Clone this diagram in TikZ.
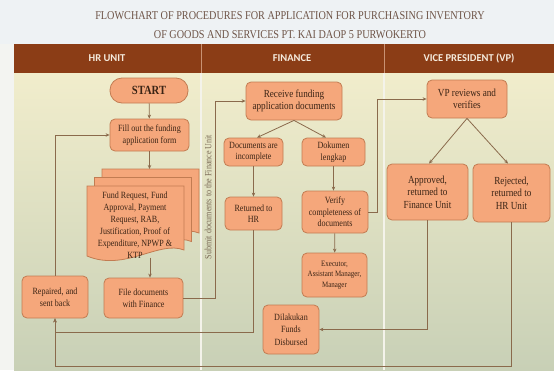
\documentclass[tikz,border=0pt]{standalone}
\usepackage{fontspec}
\setmainfont{Liberation Serif}[FakeStretch=0.85]
\newfontfamily\headfont{Carlito}
\usetikzlibrary{arrows.meta}

\definecolor{nodefill}{HTML}{F5A77B}
\definecolor{nodeline}{HTML}{C27C52}
\definecolor{ink}{HTML}{3B2415}
\definecolor{wire}{HTML}{8A6A4C}
\definecolor{headbg}{HTML}{8B3D16}
\definecolor{headtext}{HTML}{F5EBDD}
\definecolor{headsep}{HTML}{C99273}
\definecolor{titletext}{HTML}{6D5346}
\definecolor{titlebg}{HTML}{EEF2F4}
\definecolor{strip}{HTML}{F3F4F1}
\definecolor{bodytop}{HTML}{F1EDCC}
\definecolor{bodybot}{HTML}{C8D0B6}
\definecolor{colsep}{HTML}{F4F3EA}
\definecolor{sidetext}{HTML}{7A6A55}

\tikzset{
  box/.style={draw=nodeline, fill=nodefill, line width=0.8pt, rounded corners=5pt,
    align=center, text=ink, inner sep=1pt, font=\fontsize{9.5}{11.5}\selectfont},
  bigbox/.style={box, font=\fontsize{10.8}{12.5}\selectfont},
  flow/.style={draw=wire, line width=0.8pt, -{Stealth[length=4pt,width=3.5pt]}},
  wireline/.style={draw=wire, line width=0.8pt},
  docsheet/.style={draw=nodeline, fill=nodefill, line width=0.8pt},
  lanehead/.style={text=headtext, font=\headfont\bfseries\fontsize{10.5}{12}\selectfont},
}

\begin{document}
\begin{tikzpicture}[x=1pt, y=-1pt]
\useasboundingbox (0,0) rectangle (554,370);

% backgrounds
\fill[titlebg] (0,0) rectangle (554,44);
\fill[strip] (0,44) rectangle (14,370);
\shade[top color=bodytop, bottom color=bodybot] (14,73) rectangle (554,370);
\fill[headbg] (14,44) rectangle (554,73);
\draw[headsep, line width=0.8pt] (201,44) -- (201,73) (384,44) -- (384,73);
\draw[colsep, line width=1.3pt] (201,73) -- (201,370) (384,73) -- (384,370);

% title and lane headers
\node[text=titletext, align=center, font=\fontsize{12}{19}\selectfont] (title) at (290,25.5)
  {FLOWCHART OF PROCEDURES FOR APPLICATION FOR PURCHASING INVENTORY\\
   OF GOODS AND SERVICES PT. KAI DAOP 5 PURWOKERTO};
\node[lanehead] (hhr) at (107,58.5) {HR UNIT};
\node[lanehead] (hfin) at (292,58.5) {FINANCE};
\node[lanehead] (hvp) at (469,58.5) {VICE PRESIDENT (VP)};

% HR unit
\node[box, rounded corners=12pt, minimum width=78pt, minimum height=25pt,
  font=\bfseries\fontsize{12.5}{14}\selectfont] (start) at (149,90.5) {START};
\node[box, minimum width=79pt, minimum height=32pt] (fill) at (149.5,135)
  {Fill out the funding\\application form};

% stacked document sheets
\foreach \dx/\dy in {15/-17, 7.5/-8.5, 0/0}{
  \filldraw[docsheet, shift={(87+\dx,186+\dy)}]
    (0,0) -- (97,0) -- (97,64) .. controls (72,54) and (38,86) .. (0,70) -- cycle;
}
\node[text=ink, align=center, font=\fontsize{9.5}{12}\selectfont] (docs) at (135,225)
  {Fund Request, Fund\\Approval, Payment\\Request, RAB,\\Justification, Proof of\\Expenditure, NPWP \&\\KTP};
\coordinate (docin) at (150,169);
\coordinate (docout) at (150,257.5);

\node[box, minimum width=79pt, minimum height=40pt] (file) at (143.5,298)
  {File documents\\with Finance};
\node[box, minimum width=66pt, minimum height=42pt] (repair) at (55,297)
  {Repaired, and\\sent back};

% Finance
\node[bigbox, minimum width=96pt, minimum height=38pt] (recv) at (294,101)
  {Receive funding\\application documents};
\node[box, minimum width=59pt, minimum height=28pt] (incomp) at (253.5,152)
  {Documents are\\incomplete};
\node[box, minimum width=63pt, minimum height=28pt] (lengkap) at (333.5,152)
  {Dokumen\\lengkap};
\node[box, minimum width=57pt, minimum height=33pt] (ret) at (253.5,213.5)
  {Returned to\\HR};
\node[box, minimum width=66pt, minimum height=42pt] (verify) at (335,212)
  {Verify\\completeness of\\documents};
\node[box, minimum width=65pt, minimum height=44pt,
  font=\fontsize{8.2}{10.5}\selectfont] (exec) at (334.5,275)
  {Executor,\\Assistant Manager,\\Manager};
\node[box, minimum width=56pt, minimum height=49pt, font=\fontsize{9.5}{12.3}\selectfont] (disb) at (291,329.5)
  {Dilakukan\\Funds\\Disbursed};

% Vice president
\node[bigbox, minimum width=80pt, minimum height=38pt] (vp) at (467,99)
  {VP reviews and\\verifies};
\node[bigbox, minimum width=81pt, minimum height=56pt] (appr) at (427.5,192)
  {Approved,\\returned to\\Finance Unit};
\node[bigbox, minimum width=77pt, minimum height=58pt] (rej) at (511.5,193)
  {Rejected,\\returned to\\HR Unit};

% side label of the submission line
\node[rotate=90, text=sidetext, font=\fontsize{9.5}{11}\selectfont] (sublabel) at (208,197)
  {Submit documents to the Finance Unit};

% turning points
\coordinate (subx) at (215,0);
\coordinate (loopA) at (55,332);
\coordinate (loopB) at (55,366);
\coordinate (vpturn) at (377,99);

% connectors
\draw[flow] (start) -- (fill);
\draw[flow] (fill.south) -- (fill.south |- docin);
\draw[flow] (docout) -- (docout |- file.north);
\draw[flow] (file.east) -- (file.east -| subx) -- (recv.west -| subx) -- (recv.west);
\draw[flow] (recv.south) -- ([xshift=3.5pt]incomp.north);
\draw[flow] (recv.south) -- ([xshift=-7.5pt]lengkap.north);
\draw[flow] (incomp) -- (ret);
\draw[flow] (lengkap.south) -- (lengkap.south |- verify.north);
\draw[flow] (verify) -- (exec);
\draw[flow] (verify.east) -| (vpturn) -- (vp.west);
\draw[flow] (vp.south) -- ([xshift=1.5pt]appr.north);
\draw[flow] (vp.south) -- ([xshift=-3.5pt]rej.north);
\draw[flow] (appr.south) |- (disb.east);
\draw[flow] (ret.south) |- (loopA) -- (repair.south);
\draw[flow] (rej.south) |- (loopB) -- (repair.south);
\draw[flow] (repair.north) |- (fill.west);
\end{tikzpicture}
\end{document}
